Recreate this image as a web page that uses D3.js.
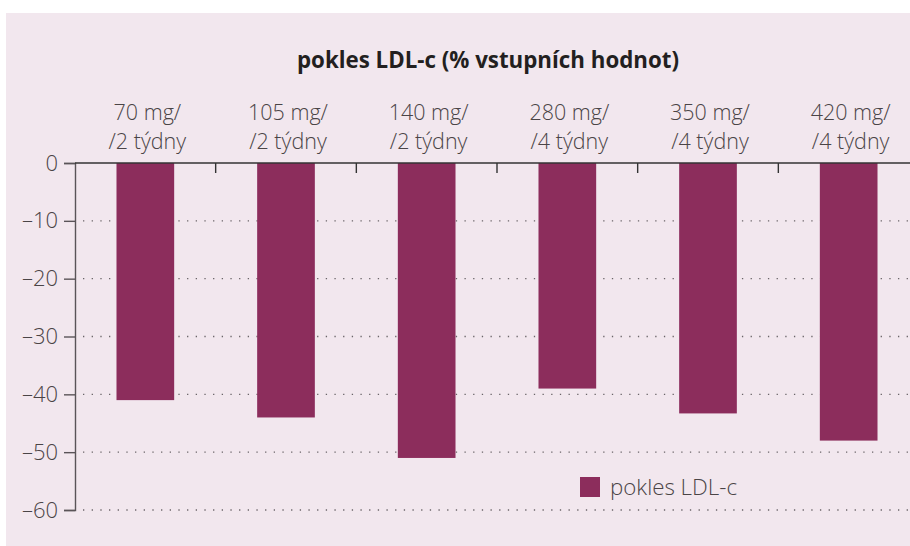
<!DOCTYPE html>
<html>
<head>
<meta charset="utf-8">
<script src="https://cdn.jsdelivr.net/npm/d3@7"></script>
<style>
  body { margin: 0; background: #fff; }
  svg text { font-family: "Open Sans", "Noto Sans", sans-serif; }
</style>
</head>
<body>
<div id="chart"></div>
<script>
const doses = ['70 mg/', '105 mg/', '140 mg/', '280 mg/', '350 mg/', '420 mg/'];
const intervals = ['/2 týdny', '/2 týdny', '/2 týdny', '/4 týdny', '/4 týdny', '/4 týdny'];
const ldlDrop = [-41, -44, -51, -39, -43.3, -48];
const yTicks = [0, -10, -20, -30, -40, -50, -60];
const title = 'pokles LDL-c (% vstupních hodnot)';
const seriesName = 'pokles LDL-c';

const width = 910, height = 546;
const barColor = '#8c2d5c';
const textColor = '#4a4446';

const svg = d3.select('#chart').append('svg')
    .attr('width', width)
    .attr('height', height);

// panel
svg.append('rect')
    .attr('x', 6).attr('y', 13)
    .attr('width', width - 6).attr('height', height - 13)
    .attr('fill', '#f2e7ee');

const x = d3.scaleBand()
    .domain(d3.range(doses.length))
    .range([75, 919])
    .paddingInner(0.59)
    .paddingOuter(0.295);

const y = d3.scaleLinear()
    .domain([-60, 0])
    .range([510, 163]);

// dotted grid
svg.append('g')
    .selectAll('line')
    .data(yTicks.filter(d => d !== 0))
    .join('line')
    .attr('x1', 83).attr('x2', width)
    .attr('y1', d => y(d)).attr('y2', d => y(d))
    .attr('stroke', '#6a6468')
    .attr('stroke-width', 1.4)
    .attr('stroke-dasharray', '1.3,7.37');

// bars
svg.append('g')
    .selectAll('rect')
    .data(ldlDrop)
    .join('rect')
    .attr('x', (d, i) => x(i))
    .attr('y', y(0))
    .attr('width', x.bandwidth())
    .attr('height', d => y(d) - y(0))
    .attr('fill', barColor);

// y axis
const yAxis = d3.axisLeft(y)
    .tickValues(yTicks)
    .tickSize(11)
    .tickPadding(6)
    .tickFormat(d => d === 0 ? '0' : '\u2013' + Math.abs(d));

const gy = svg.append('g')
    .attr('transform', 'translate(75,0)')
    .call(yAxis);
gy.select('.domain').attr('stroke', '#5a5458').attr('stroke-width', 1.4);
gy.selectAll('.tick line').attr('stroke', '#5a5458').attr('stroke-width', 1.4);
gy.selectAll('.tick text')
    .attr('font-size', 22)
    .attr('font-weight', 300)
    .attr('fill', textColor)
    .attr('font-family', '"Open Sans", sans-serif');

// zero line with category ticks
svg.append('line')
    .attr('x1', 75).attr('x2', width)
    .attr('y1', y(0)).attr('y2', y(0))
    .attr('stroke', '#333')
    .attr('stroke-width', 1.4);

svg.append('g')
    .selectAll('line')
    .data(d3.range(1, doses.length))
    .join('line')
    .attr('x1', i => x(i) - x.step() * x.paddingInner() / 2)
    .attr('x2', i => x(i) - x.step() * x.paddingInner() / 2)
    .attr('y1', y(0)).attr('y2', y(0) + 10)
    .attr('stroke', '#333')
    .attr('stroke-width', 1.4);

// category labels
const labels = svg.append('g')
    .selectAll('text')
    .data(doses)
    .join('text')
    .attr('text-anchor', 'middle')
    .attr('font-size', 21.5)
    .attr('font-weight', 300)
    .attr('fill', textColor);
labels.append('tspan')
    .attr('x', (d, i) => x(i) + x.bandwidth() / 2 + 2)
    .attr('y', 120)
    .text(d => d);
labels.append('tspan')
    .attr('x', (d, i) => x(i) + x.bandwidth() / 2 + 2)
    .attr('y', 149)
    .text((d, i) => intervals[i]);

// title
svg.append('text')
    .attr('x', 488).attr('y', 68)
    .attr('text-anchor', 'middle')
    .attr('font-size', 22.3)
    .attr('font-weight', 700)
    .attr('fill', '#231f20')
    .text(title);

// legend
const legend = svg.append('g').attr('transform', 'translate(580,477)');
legend.append('rect')
    .attr('width', 20).attr('height', 20)
    .attr('fill', barColor);
legend.append('text')
    .attr('x', 30).attr('y', 18)
    .attr('font-size', 22.3)
    .attr('font-weight', 300)
    .attr('fill', textColor)
    .text(seriesName);
</script>
</body>
</html>
